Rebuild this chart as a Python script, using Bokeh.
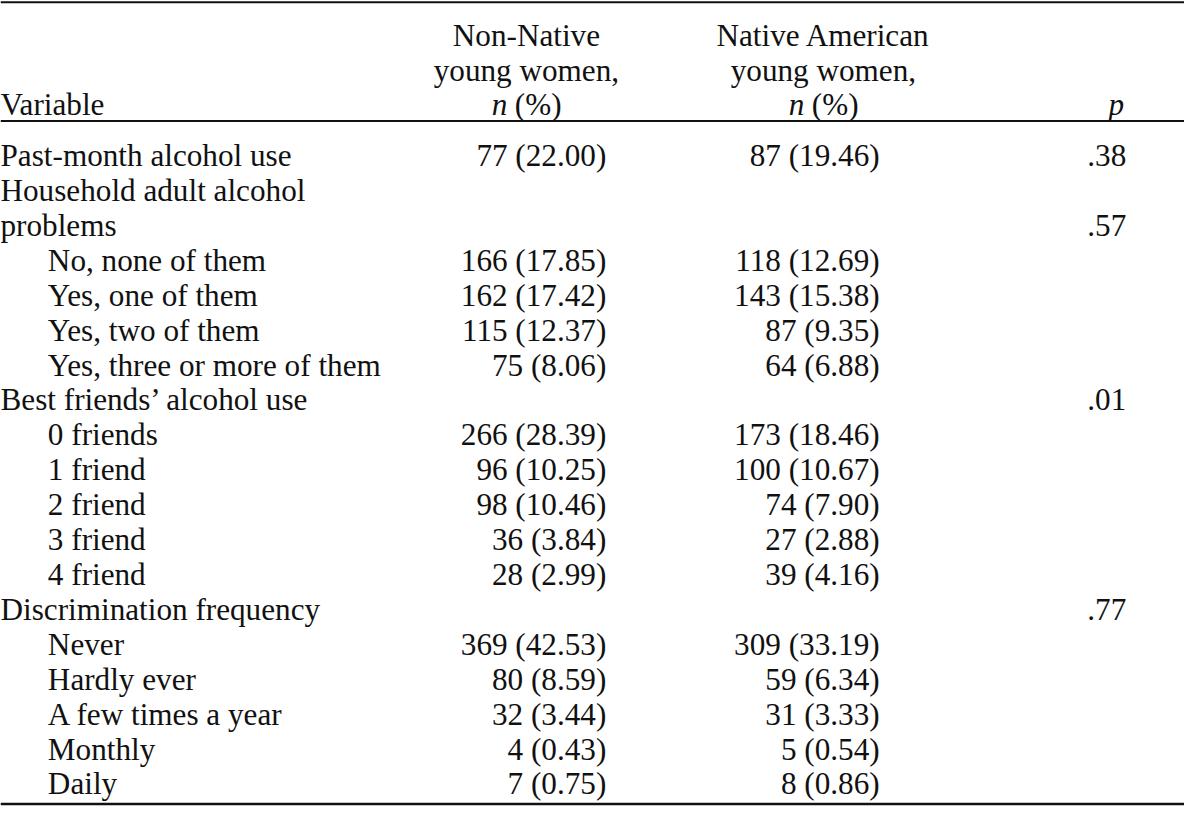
from bokeh.plotting import figure
from bokeh.models import Range1d, ColumnDataSource, Span
from bokeh.core.properties import value
from bokeh.embed import file_html
from bokeh.resources import INLINE

# ---- data ----
labels = [
    "Past-month alcohol use", "Household adult alcohol", "problems",
    "No, none of them", "Yes, one of them", "Yes, two of them",
    "Yes, three or more of them", "Best friends\u2019 alcohol use",
    "0 friends", "1 friend", "2 friend", "3 friend", "4 friend",
    "Discrimination frequency", "Never", "Hardly ever",
    "A few times a year", "Monthly", "Daily",
]
indent = [0, 0, 0, 1, 1, 1, 1, 0, 1, 1, 1, 1, 1, 0, 1, 1, 1, 1, 1]
nonnative_n = [77, None, None, 166, 162, 115, 75, None, 266, 96, 98, 36, 28,
               None, 369, 80, 32, 4, 7]
nonnative_pct = [22.00, None, None, 17.85, 17.42, 12.37, 8.06, None, 28.39,
                 10.25, 10.46, 3.84, 2.99, None, 42.53, 8.59, 3.44, 0.43, 0.75]
native_n = [87, None, None, 118, 143, 87, 64, None, 173, 100, 74, 27, 39,
            None, 309, 59, 31, 5, 8]
native_pct = [19.46, None, None, 12.69, 15.38, 9.35, 6.88, None, 18.46,
              10.67, 7.90, 2.88, 4.16, None, 33.19, 6.34, 3.33, 0.54, 0.86]
p_values = [0.38, None, 0.57, None, None, None, None, 0.01, None, None, None,
            None, None, 0.77, None, None, None, None, None]
header_col1 = ["Non-Native", "young women,"]
header_col2 = ["Native American", "young women,"]

# ---- layout (reference pixel units) ----
W, H = 1200, 822
FONT = value("Liberation Serif")
FSN = 31.2
FS = f"{FSN}px"
row0 = 158.2
step = 35.6
x_label, x_indent = 0, 48
x_c1_right, x_c2_right, x_p_right = 614, 891, 1141
x_c1_center, x_c2_center, x_p_center = 533, 834, 1131
hdr_base = [36, 71, 106]
color = "#111111"

p = figure(width=1184, height=806, output_backend="svg", toolbar_location=None,
           x_range=Range1d(0, W), y_range=Range1d(H, 0), min_border=0)
p.axis.visible = False
p.grid.visible = False
p.outline_line_color = None
p.background_fill_color = "white"
p.border_fill_color = "white"

def fmt(n, pct):
    return "" if n is None else f"{n} ({pct:.2f})"

ys = [row0 + step * i for i in range(len(labels))]
src = ColumnDataSource(dict(
    y=ys,
    xl=[x_label if d == 0 else x_indent for d in indent],
    label=labels,
    c1=[fmt(n, v) for n, v in zip(nonnative_n, nonnative_pct)],
    c2=[fmt(n, v) for n, v in zip(native_n, native_pct)],
    pv=["" if v is None else f"{v:.2f}".lstrip("0") for v in p_values],
    x1=[x_c1_right] * len(labels),
    x2=[x_c2_right] * len(labels),
    xp=[x_p_right] * len(labels),
))

common = dict(source=src, y="y", text_font=FONT, text_font_size=FS,
              text_color=color, text_baseline="alphabetic")
p.text(x="xl", text="label", text_align="left", **common)
p.text(x="x1", text="c1", text_align="right", **common)
p.text(x="x2", text="c2", text_align="right", **common)
p.text(x="xp", text="pv", text_align="right", **common)

# headers
hsrc = ColumnDataSource(dict(
    x=[x_c1_center] * 2 + [x_c2_center] * 2,
    y=hdr_base[:2] * 2,
    t=header_col1 + header_col2,
))
p.text(x="x", y="y", text="t", source=hsrc, text_font=FONT, text_font_size=FS,
       text_color=color, text_align="center", text_baseline="alphabetic")

p.text(x=[x_label], y=[hdr_base[2]], text=["Variable"], text_font=FONT,
       text_font_size=FS, text_color=color, text_align="left",
       text_baseline="alphabetic")

# "n (%)" with italic n
half = 2.249 * FSN / 2
n_w = 0.5 * FSN
sp_w = 0.25 * FSN
for cx in (x_c1_center, x_c2_center):
    p.text(x=[cx - half], y=[hdr_base[2]], text=["n"], text_font=FONT,
           text_font_size=FS, text_font_style="italic", text_color=color,
           text_align="left", text_baseline="alphabetic")
    p.text(x=[cx - half + n_w + sp_w], y=[hdr_base[2]], text=["(%)"],
           text_font=FONT, text_font_size=FS, text_color=color,
           text_align="left", text_baseline="alphabetic")
p.text(x=[x_p_center], y=[hdr_base[2]], text=["p"], text_font=FONT,
       text_font_size=FS, text_font_style="italic", text_color=color,
       text_align="center", text_baseline="alphabetic")

# rules
for loc, lw in ((1.8, 2.2), (123, 2), (819.5, 2.5)):
    p.add_layout(Span(location=loc, dimension="width", line_color="#111111",
                      line_width=lw))

open("out.html", "w").write(file_html(p, INLINE))
